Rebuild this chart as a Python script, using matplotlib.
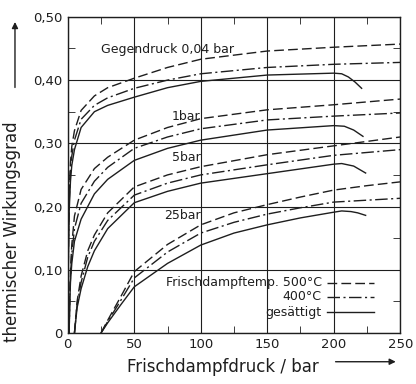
import matplotlib.pyplot as plt

# Gegendruck 0,04 bar
p_004 = [0.04, 0.3, 0.6, 1, 2, 3, 5, 10, 20, 30, 50, 75, 100, 150, 200, 250]
eta_004_500 = [0, 0.10, 0.16, 0.22, 0.27, 0.295, 0.32, 0.352, 0.375, 0.388, 0.403, 0.42, 0.433, 0.446, 0.452, 0.457]
eta_004_400 = [0, 0.09, 0.15, 0.205, 0.255, 0.28, 0.305, 0.338, 0.36, 0.372, 0.387, 0.40, 0.41, 0.42, 0.425, 0.428]
p_004_sat = [0.04, 0.3, 0.6, 1, 2, 3, 5, 10, 20, 30, 50, 75, 100, 150, 200, 206, 211, 216, 221]
eta_004_sat = [0, 0.08, 0.14, 0.19, 0.24, 0.265, 0.29, 0.325, 0.35, 0.36, 0.373, 0.388, 0.398, 0.408, 0.411, 0.41, 0.405, 0.397, 0.387]

# Gegendruck 1 bar
p_1 = [1, 1.5, 2, 3, 5, 10, 20, 30, 50, 75, 100, 150, 200, 250]
eta_1_500 = [0, 0.06, 0.10, 0.14, 0.185, 0.227, 0.26, 0.278, 0.305, 0.325, 0.339, 0.353, 0.361, 0.37]
eta_1_400 = [0, 0.055, 0.09, 0.125, 0.165, 0.205, 0.24, 0.262, 0.292, 0.31, 0.323, 0.337, 0.343, 0.348]
p_1_sat = [1, 1.5, 2, 3, 5, 10, 20, 30, 50, 75, 100, 150, 200, 208, 215, 222]
eta_1_sat = [0, 0.05, 0.08, 0.11, 0.145, 0.18, 0.22, 0.243, 0.273, 0.292, 0.305, 0.321, 0.328, 0.327, 0.321, 0.311]

# Gegendruck 5 bar
p_5 = [5, 7, 10, 15, 20, 30, 50, 75, 100, 150, 200, 250]
eta_5_500 = [0, 0.05, 0.09, 0.13, 0.155, 0.19, 0.231, 0.25, 0.263, 0.282, 0.296, 0.31]
eta_5_400 = [0, 0.045, 0.08, 0.12, 0.145, 0.178, 0.218, 0.237, 0.25, 0.266, 0.281, 0.29]
p_5_sat = [5, 7, 10, 15, 20, 30, 50, 75, 100, 150, 200, 206, 215, 224]
eta_5_sat = [0, 0.04, 0.07, 0.105, 0.13, 0.165, 0.206, 0.224, 0.237, 0.252, 0.267, 0.268, 0.264, 0.253]

# Gegendruck 25 bar
p_25 = [25, 30, 40, 50, 75, 100, 125, 150, 175, 200, 225, 250]
eta_25_500 = [0, 0.02, 0.058, 0.097, 0.14, 0.171, 0.19, 0.203, 0.215, 0.226, 0.233, 0.239]
eta_25_400 = [0, 0.018, 0.052, 0.087, 0.128, 0.158, 0.175, 0.188, 0.198, 0.207, 0.21, 0.213]
p_25_sat = [25, 30, 40, 50, 75, 100, 125, 150, 175, 200, 206, 213, 218, 224]
eta_25_sat = [0, 0.016, 0.045, 0.073, 0.11, 0.139, 0.158, 0.171, 0.182, 0.191, 0.193, 0.192, 0.19, 0.186]

x_ticks = [0, 50, 100, 150, 200, 250]
y_ticks = [0, 0.1, 0.2, 0.3, 0.4, 0.5]
y_tick_labels = ["0", "0,10", "0,20", "0,30", "0,40", "0,50"]

ink = "#1e1e1e"
dash_500 = (0, (7, 3))
dash_400 = (0, (9, 2.5, 1.5, 2.5))

fig = plt.figure(figsize=(4.16, 3.84), dpi=100)
ax = fig.add_axes([0.163, 0.133, 0.799, 0.823])

for p, e in [(p_004, eta_004_500), (p_1, eta_1_500), (p_5, eta_5_500), (p_25, eta_25_500)]:
    ax.plot(p, e, color=ink, lw=1.0, linestyle=dash_500)
for p, e in [(p_004, eta_004_400), (p_1, eta_1_400), (p_5, eta_5_400), (p_25, eta_25_400)]:
    ax.plot(p, e, color=ink, lw=1.0, linestyle=dash_400)
for p, e in [(p_004_sat, eta_004_sat), (p_1_sat, eta_1_sat), (p_5_sat, eta_5_sat), (p_25_sat, eta_25_sat)]:
    ax.plot(p, e, color=ink, lw=1.0)

ax.set_xlim(0, 250)
ax.set_ylim(0, 0.5)
ax.set_xticks(x_ticks)
ax.set_yticks(y_ticks)
ax.set_yticklabels(y_tick_labels)
ax.set_xticks([25, 75, 125, 175, 225], minor=True)
ax.set_yticks([0.05, 0.15, 0.25, 0.35, 0.45], minor=True)
ax.tick_params(which="both", direction="in", top=True, right=True, colors=ink, labelsize=9.5)
ax.tick_params(which="major", length=0, pad=4)
ax.tick_params(which="minor", length=5)
ax.grid(True, which="major", color=ink, lw=0.8)
for s in ax.spines.values():
    s.set_color(ink)
    s.set_linewidth(1.0)

# group labels
ax.text(25, 0.449, "Gegendruck 0,04 bar", fontsize=9, color=ink, ha="left", va="center")
ax.text(100, 0.343, "1bar", fontsize=9, color=ink, ha="right", va="center")
ax.text(100, 0.277, "5bar", fontsize=9, color=ink, ha="right", va="center")
ax.text(100, 0.186, "25bar", fontsize=9, color=ink, ha="right", va="center")

# legend drawn by hand
legend_rows = [("Frischdampftemp. 500°C", dash_500, 0.079),
               ("400°C", dash_400, 0.057),
               ("gesättigt", "-", 0.033)]
for label, ls, yy in legend_rows:
    ax.text(191, yy, label, fontsize=9, color=ink, ha="right", va="center")
    ax.plot([195, 230], [yy, yy], color=ink, lw=1.0, linestyle=ls)

ax.set_xlabel("Frischdampfdruck / bar", fontsize=12, color=ink)
ax.xaxis.set_label_coords(0.467, -0.08)
ax.set_ylabel("thermischer Wirkungsgrad", fontsize=12, color=ink)
ax.yaxis.set_label_coords(-0.14, 0.32)

# arrows next to the axis titles
ax.annotate("", xy=(0.036, 0.95), xytext=(0.036, 0.765), xycoords="figure fraction",
            arrowprops=dict(arrowstyle="-|>", color=ink, lw=1.0, mutation_scale=9))
ax.annotate("", xy=(0.958, 0.058), xytext=(0.80, 0.058), xycoords="figure fraction",
            arrowprops=dict(arrowstyle="-|>", color=ink, lw=1.0, mutation_scale=9))

fig.savefig("out.png", dpi=100)
